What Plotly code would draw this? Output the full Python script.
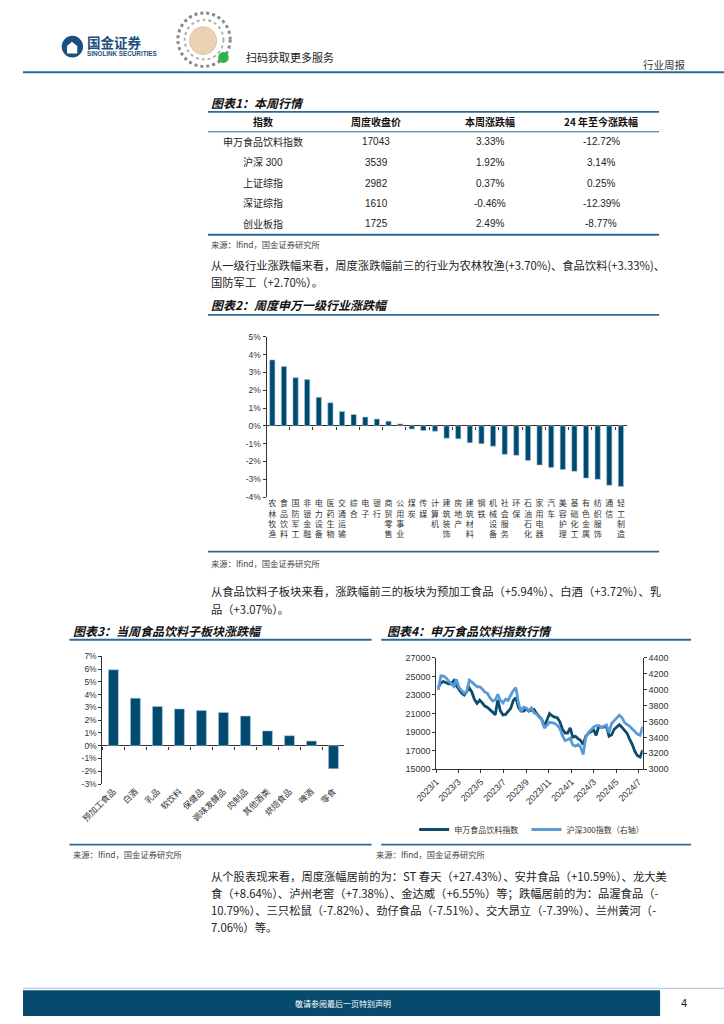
import plotly.graph_objects as go
import pandas as pd

W, H = 724, 1024
CJK = "Noto Sans CJK SC"
NUM = "Liberation Sans, Noto Sans CJK SC"
BAR = "#004a70"
DARK = "#0c4a6e"
LIGHT = "#5b9bd5"
LINE = "#2f6a97"

# ---------------- data ----------------
table_headers = ["指数", "周度收盘价", "本周涨跌幅", "24 年至今涨跌幅"]
table_names = ["申万食品饮料指数", "沪深 300", "上证综指", "深证综指", "创业板指"]
table_close = ["17043", "3539", "2982", "1610", "1725"]
table_week = ["3.33%", "1.92%", "0.37%", "-0.46%", "2.49%"]
table_ytd = ["-12.72%", "3.14%", "0.25%", "-12.39%", "-8.77%"]

cats2 = ["农林牧渔", "食品饮料", "国防军工", "非银金融", "电力设备", "医药生物", "交通运输",
         "综合", "电子", "银行", "商贸零售", "公用事业", "煤炭", "传媒", "计算机", "建筑装饰",
         "房地产", "建筑材料", "钢铁", "机械设备", "社会服务", "环保", "石油石化", "家用电器",
         "汽车", "美容护理", "基础化工", "有色金属", "纺织服饰", "通信", "轻工制造"]
vals2 = [3.70, 3.33, 2.70, 2.60, 1.60, 1.30, 0.81, 0.64, 0.49, 0.38, 0.26, 0.11, -0.18,
         -0.26, -0.30, -0.69, -0.73, -0.95, -1.00, -1.14, -1.60, -1.65, -1.94, -2.20,
         -2.34, -2.45, -2.55, -2.93, -3.00, -3.33, -3.40]
ticks2 = [-4, -3, -2, -1, 0, 1, 2, 3, 4, 5]

cats3 = ["预加工食品", "白酒", "乳品", "软饮料", "保健品", "调味发酵品", "肉制品",
         "其他酒类", "烘焙食品", "啤酒", "零食"]
vals3 = [5.94, 3.72, 3.07, 2.88, 2.75, 2.60, 2.32, 1.16, 0.78, 0.36, -1.80]
ticks3 = [-3, -2, -1, 0, 1, 2, 3, 4, 5, 6, 7]

dates4 = pd.date_range("2023-01-06", periods=80, freq="7D")
sw_food = [23800, 24300, 24450, 24300, 24200, 24200, 24550, 24000, 23600, 23200,
           23000, 23350, 23750, 23300, 22500, 22100, 22450, 22150, 21800, 21650,
           21450, 21150, 20850, 22450, 21300, 20850, 20900, 21250, 21550, 22400,
           22700, 21650, 21250, 21250, 21500, 21250, 21350, 21450, 21000, 20700,
           20350, 19600, 20300, 21000, 20750, 20600, 20550, 20100, 19300, 18900,
           18900, 19450, 18450, 18550, 18300, 18100, 17650, 18550, 18850, 19100,
           19250, 18650, 19600, 19500, 19550, 19600, 18550, 18700, 19300, 19600,
           19800, 19500, 19200, 18850, 18200, 17650, 16900, 16450, 16300, 17043]
hs300 = [3996, 4175, 4170, 4150, 4110, 4070, 4040, 4130, 4030, 3990,
         3954, 3980, 4120, 4095, 4060, 4035, 4037, 4010, 3970, 3955,
         3895, 3860, 3870, 3940, 3865, 3835, 3880, 3865, 3930, 3990,
         4025, 3830, 3730, 3780, 3770, 3735, 3770, 3710, 3690, 3660,
         3620, 3517, 3560, 3590, 3585, 3575, 3550, 3510, 3420, 3360,
         3370, 3390, 3305, 3290, 3310, 3280, 3183, 3400, 3460, 3500,
         3530, 3545, 3550, 3525, 3540, 3555, 3460, 3575, 3610, 3640,
         3680, 3650, 3585, 3560, 3540, 3505, 3470, 3440, 3425, 3539]
date_ticks = ["2023-01-01", "2023-03-01", "2023-05-01", "2023-07-01", "2023-09-01",
              "2023-11-01", "2024-01-01", "2024-03-01", "2024-05-01", "2024-07-01"]
date_labels = ["2023/1", "2023/3", "2023/5", "2023/7", "2023/9", "2023/11",
               "2024/1", "2024/3", "2024/5", "2024/7"]
left_ticks = [15000, 17000, 19000, 21000, 23000, 25000, 27000]
right_ticks = [3000, 3200, 3400, 3600, 3800, 4000, 4200, 4400]

para1 = ["从一级行业涨跌幅来看，周度涨跌幅前三的行业为农林牧渔(+3.70%)、食品饮料(+3.33%)、",
         "国防军工（+2.70%）。"]
para2 = ["从食品饮料子板块来看，涨跌幅前三的板块为预加工食品（+5.94%）、白酒（+3.72%）、乳",
         "品（+3.07%）。"]
para3 = ["从个股表现来看，周度涨幅居前的为：ST 春天（+27.43%）、安井食品（+10.59%）、龙大美",
         "食（+8.64%）、泸州老窖（+7.38%）、金达威（+6.55%）等；跌幅居前的为：品渥食品（-",
         "10.79%）、三只松鼠（-7.82%）、劲仔食品（-7.51%）、交大昂立（-7.39%）、兰州黄河（-",
         "7.06%）等。"]
source = "来源：Ifind，国金证券研究所"


# ---------------- helpers ----------------
def X(x):
    return x / W


def Y(y):
    return 1 - y / H


ann = []
shapes = []


def txt(x, y, s, size=11.3, anchor="left", bold=False, italic=False, color="#222", family=CJK):
    ann.append(dict(x=X(x), y=Y(y), xref="paper", yref="paper", text=s, showarrow=False,
                    xanchor=anchor, yanchor="middle",
                    font=dict(size=size, color=color, family=family,
                              weight="bold" if bold else "normal",
                              style="italic" if italic else "normal")))


def hline(x0, x1, y, color=LINE, width=1.5):
    shapes.append(dict(type="line", xref="paper", yref="paper", x0=X(x0), x1=X(x1),
                       y0=Y(y), y1=Y(y), line=dict(color=color, width=width)))


def circle(cx, cy, r, fill, line_color=None, lw=0, dash="solid"):
    shapes.append(dict(type="circle", xref="paper", yref="paper", x0=X(cx - r), x1=X(cx + r),
                       y0=Y(cy + r), y1=Y(cy - r), fillcolor=fill,
                       line=dict(color=line_color or fill, width=lw, dash=dash)))


# ---------------- header ----------------
circle(51, 42, 11, "#1c4f7c")
house = [(45.5, 49), (45.5, 41.5), (50.5, 37), (56, 41.5), (56, 49)]
shapes.append(dict(type="path", xref="paper", yref="paper",
                   path="M " + " L ".join(f"{X(a):.5f},{Y(b):.5f}" for a, b in house) + " Z",
                   fillcolor="white", line=dict(color="white", width=0)))
txt(64, 37.5, "国金证券", size=13.5, bold=True, color="#1c4f7c")
txt(64, 48.5, "SINOLINK SECURITIES", size=6.3, bold=True, color="#1c4f7c", family="Liberation Sans")
circle(187, 35, 27, "white", "#8a8a8a", 3, "dot")
circle(187, 35, 20, "white", "#b0b0b0", 2, "dot")
circle(186, 36, 14, "#ecd2b4", "#e3c29f", 1)
circle(207, 53, 5.5, "#2cb34a")
txt(228, 53, "扫码获取更多服务", size=11, color="#222")
txt(687, 60, "行业周报", size=10.5, anchor="right", color="#333")
hline(0, 724, 68, color=LINE, width=2)

# ---------------- table 1 ----------------
TS = 12
txt(192, 98, "图表1：本周行情", size=TS, bold=True, italic=True, color="#111")
hline(191, 657, 108, width=1.8)
col_x = [248, 365, 482, 597]
for cx, h in zip(col_x, table_headers):
    txt(cx, 118, h, size=10, anchor="center", bold=True, color="#111")
hline(191, 657, 128, width=1.2)
row_y = [138, 159, 180, 200, 221]
for i, ry in enumerate(row_y):
    for cx, col in zip(col_x, [table_names, table_close, table_week, table_ytd]):
        txt(cx, ry, col[i], size=10, anchor="center", color="#222", family=NUM)
hline(191, 657, 232, width=1.8)
txt(192, 241, source, size=8.3, color="#444")

# ---------------- paragraph 1 & chart 2 labels ----------------
txt(192, 263, para1[0])
txt(192, 280, para1[1])
txt(192, 302, "图表2：周度申万一级行业涨跌幅", size=TS, bold=True, italic=True, color="#111")
hline(191, 657, 313, width=1.8)
hline(191, 657, 552, width=1.8)
txt(192, 564, source, size=8.3, color="#444")

txt(192, 592, para2[0])
txt(192, 610, para2[1])

# ---------------- charts 3 / 4 frames ----------------
txt(50, 632, "图表3：当周食品饮料子板块涨跌幅", size=TS, bold=True, italic=True, color="#111")
txt(374, 632, "图表4：申万食品饮料指数行情", size=TS, bold=True, italic=True, color="#111")
hline(48, 360, 641, width=1.8)
hline(370, 690, 641, width=1.8)
hline(48, 360, 848, width=1.8)
hline(370, 690, 848, width=1.8)
txt(50, 857, source, size=8.3, color="#444")
txt(362, 857, source, size=8.3, color="#444")

for i, line in enumerate(para3):
    txt(192, 880 + i * 17, line)

# ---------------- footer ----------------
hline(0, 724, 993, color="#a9bfd1", width=1)
shapes.append(dict(type="rect", xref="paper", yref="paper", x0=X(0), x1=X(658),
                   y0=Y(1021), y1=Y(995), fillcolor="#064a6e", line=dict(width=0)))
txt(330, 1008, "敬请参阅最后一页特别声明", size=8, anchor="center", color="white")
txt(683, 1008, "4", size=11, anchor="center", color="#222", family="Liberation Sans")

# ---------------- figure ----------------
fig = go.Figure()

# chart 2
fig.add_trace(go.Bar(x=cats2, y=vals2, width=0.45, xaxis="x", yaxis="y",
                     marker=dict(color=BAR, line=dict(color="#a8c6dc", width=0.6)),
                     showlegend=False, hoverinfo="skip"))
fig.add_trace(go.Scatter(x=cats2, y=vals2, mode="markers", marker=dict(opacity=0),
                         xaxis="x4", yaxis="y", showlegend=False, hoverinfo="skip"))
# chart 3
fig.add_trace(go.Bar(x=cats3, y=vals3, width=0.45, xaxis="x2", yaxis="y2",
                     marker=dict(color=BAR, line=dict(color="#a8c6dc", width=0.6)),
                     showlegend=False, hoverinfo="skip"))
fig.add_trace(go.Scatter(x=cats3, y=vals3, mode="markers", marker=dict(opacity=0),
                         xaxis="x5", yaxis="y2", showlegend=False, hoverinfo="skip"))
# chart 4
fig.add_trace(go.Scatter(x=dates4, y=sw_food, mode="lines", name="申万食品饮料指数",
                         line=dict(color=DARK, width=2.8), xaxis="x3", yaxis="y3",
                         legend="legend"))
fig.add_trace(go.Scatter(x=dates4, y=hs300, mode="lines", name="沪深300指数（右轴）",
                         line=dict(color=LIGHT, width=2.8), xaxis="x3", yaxis="y4",
                         legend="legend2"))

y2dom = [Y(497), Y(335)]
y3dom = [Y(786.7), Y(657.7)]
y4dom = [Y(771.7), Y(659.3)]
zero2 = y2dom[0] + (0 - ticks2[0]) / (ticks2[-1] - ticks2[0]) * (y2dom[1] - y2dom[0])
zero3 = y3dom[0] + (0 - ticks3[0]) / (ticks3[-1] - ticks3[0]) * (y3dom[1] - y3dom[0])

tickfont = dict(size=8.5, family=NUM, color="#333")
cjkfont = dict(size=8, family=CJK, color="#333")
cjkfont3 = dict(size=8.5, family=CJK, color="#333")
font4 = dict(size=9, family=NUM, color="#333")
legfont = dict(size=8, family=CJK, color="#333")

fig.update_layout(
    width=W, height=H, autosize=False,
    margin=dict(l=0, r=0, t=0, b=0),
    paper_bgcolor="white", plot_bgcolor="white",
    annotations=ann, shapes=shapes, bargap=0.5,
    xaxis=dict(domain=[X(251.5), X(623.5)], anchor="y", type="category",
               range=[-0.5, len(cats2) - 0.5], tickmode="array", tickvals=cats2,
               ticktext=["<br>".join(c) for c in cats2], tickangle=0,
               showline=False, ticks="", showgrid=False, tickfont=cjkfont),
    xaxis4=dict(overlaying="x", type="category", range=[-0.5, len(cats2) - 0.5],
                categoryorder="array", categoryarray=cats2, anchor="free", position=zero2,
                tickson="boundaries", ticks="outside", ticklen=3, tickcolor="#333",
                showline=False, showticklabels=False, showgrid=False),
    yaxis=dict(domain=y2dom, anchor="x", range=[ticks2[0], ticks2[-1]], tickmode="array",
               tickvals=ticks2, ticktext=[f"{v}%" for v in ticks2], showline=True,
               linecolor="#333", linewidth=1, ticks="outside", ticklen=3, tickcolor="#333",
               showgrid=False, zeroline=True, zerolinecolor="#333", zerolinewidth=1,
               tickfont=tickfont),
    xaxis2=dict(domain=[X(82), X(332)], anchor="y2", type="category",
                range=[-0.5, len(cats3) - 0.5], tickmode="array", tickvals=cats3,
                ticktext=cats3, tickangle=-45, showline=False, ticks="", showgrid=False,
                tickfont=cjkfont3),
    xaxis5=dict(overlaying="x2", type="category", range=[-0.5, len(cats3) - 0.5],
                categoryorder="array", categoryarray=cats3, anchor="free", position=zero3,
                tickson="boundaries", ticks="outside", ticklen=3, tickcolor="#333",
                showline=False, showticklabels=False, showgrid=False),
    yaxis2=dict(domain=y3dom, anchor="x2", range=[ticks3[0], ticks3[-1]], tickmode="array",
                tickvals=ticks3, ticktext=[f"{v}%" for v in ticks3], showline=True,
                linecolor="#333", linewidth=1, ticks="outside", ticklen=3, tickcolor="#333",
                showgrid=False, zeroline=True, zerolinecolor="#333", zerolinewidth=1,
                tickfont=tickfont),
    xaxis3=dict(domain=[X(427), X(640)], anchor="y3", type="date",
                range=["2023-01-01", "2024-07-12"], tickmode="array", tickvals=date_ticks,
                ticktext=date_labels, tickangle=-45, showline=True, linecolor="#333",
                ticks="outside", ticklen=3, tickcolor="#333", showgrid=False, tickfont=font4),
    yaxis3=dict(domain=y4dom, anchor="x3", range=[left_ticks[0], left_ticks[-1]],
                tickmode="array", tickvals=left_ticks, ticktext=[str(v) for v in left_ticks],
                showline=True, linecolor="#333", ticks="outside", ticklen=3, tickcolor="#333",
                showgrid=False, zeroline=False, tickfont=font4),
    yaxis4=dict(overlaying="y3", side="right", anchor="x3",
                range=[right_ticks[0], right_ticks[-1]], tickmode="array",
                tickvals=right_ticks, ticktext=[str(v) for v in right_ticks], showline=True,
                linecolor="#333", ticks="outside", ticklen=3, tickcolor="#333",
                showgrid=False, zeroline=False, tickfont=font4),
    legend=dict(orientation="h", x=X(404), y=Y(818), xanchor="left", yanchor="top",
                font=legfont, bgcolor="rgba(0,0,0,0)"),
    legend2=dict(orientation="h", x=X(520), y=Y(818), xanchor="left", yanchor="top",
                 font=legfont, bgcolor="rgba(0,0,0,0)"),
    showlegend=True,
)

fig.write_html("out.html", config={"displayModeBar": False},
               post_script="document.body.style.margin='0';")
